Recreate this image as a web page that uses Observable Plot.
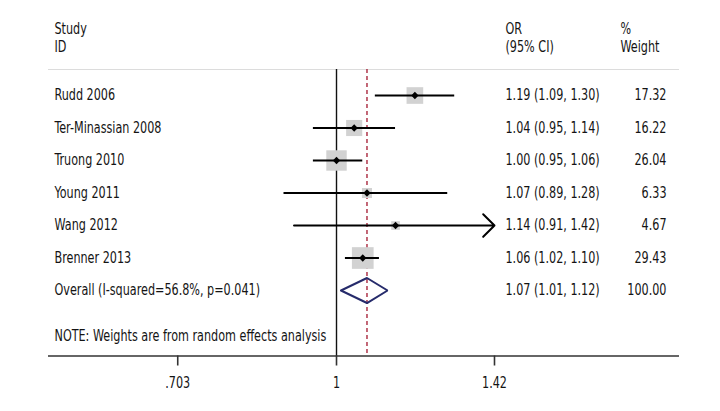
<!DOCTYPE html>
<html>
<head>
<meta charset="utf-8">
<script src="https://cdn.jsdelivr.net/npm/d3@7"></script>
<script src="https://cdn.jsdelivr.net/npm/@observablehq/plot@0.6"></script>
<style>
  html, body { margin: 0; padding: 0; background: #fff; }
  #chart svg { display: block; }
</style>
</head>
<body>
<div id="chart"></div>
<script>
// ---- data ----
const studies = ["Rudd 2006", "Ter-Minassian 2008", "Truong 2010", "Young 2011", "Wang 2012", "Brenner 2013"];
const orValues = [1.19, 1.04, 1.00, 1.07, 1.14, 1.06];
const ciLower = [1.09, 0.95, 0.95, 0.89, 0.91, 1.02];
const ciUpper = [1.30, 1.14, 1.06, 1.28, 1.42, 1.10];
const weights = [17.32, 16.22, 26.04, 6.33, 4.67, 29.43];
const overallLabel = "Overall (I-squared=56.8%, p=0.041)";
const overallOR = 1.07, overallLower = 1.01, overallUpper = 1.12, overallWeight = 100.00;
const noteText = "NOTE: Weights are from random effects analysis";
const xTicks = [0.703, 1, 1.42];
const xTickLabels = [".703", "1", "1.42"];
const axisMax = 1.42; // CIs reaching this are drawn with an arrow

// ---- derived tables ----
const rows = studies.map((s, i) => ({
  study: s, or: orValues[i], lo: ciLower[i], hi: ciUpper[i], w: weights[i], row: i + 1,
  clipped: ciUpper[i] >= axisMax
}));
const overallRow = rows.length + 1;
const noteRow = overallRow + 1.415;
const sepRow = 0.2;
const headRow1 = -1.03, headRow2 = -0.477;
const fmt2 = d3.format(".2f");
const orText = (o, l, h) => `${fmt2(o)} (${fmt2(l)}, ${fmt2(h)})`;
const diamondH = 0.385;
const diamond = [
  {x: overallLower, y: overallRow},
  {x: overallOR, y: overallRow - diamondH},
  {x: overallUpper, y: overallRow},
  {x: overallOR, y: overallRow + diamondH},
  {x: overallLower, y: overallRow}
];
const tickMap = new Map(xTicks.map((t, i) => [t, xTickLabels[i]]));

const FONT = "'DejaVu Sans Condensed', 'Liberation Sans Narrow', sans-serif";
const TXT = "#141414";
const colOR = 457, colW = 618, colWHead = 572, colStudy = 6;
const yBottom = 9.015;

const chart = Plot.plot({
  width: 720,
  height: 411,
  marginLeft: 48,
  marginRight: 41,
  marginTop: 0,
  marginBottom: 55.5,
  style: {fontFamily: FONT, fontSize: "15px", color: TXT, background: "#fff"},
  x: {type: "log", domain: [0.5277, 2.141]},
  y: {domain: [-1.923, yBottom], range: [0, 355.5], axis: null},
  r: {type: "sqrt", domain: [0, 29.43], range: [0, 12.25]},
  marks: [
    Plot.ruleY([sepRow], {stroke: "#dcdcdc", strokeWidth: 1.2}),
    Plot.ruleY([yBottom], {stroke: "#333", strokeWidth: 1.6}),
    Plot.axisX({ticks: xTicks, tickFormat: d => tickMap.get(d), tickSize: 10, tickPadding: 11,
      label: null, fontSize: 15, stroke: "#333", strokeWidth: 1.6, fill: TXT}),
    Plot.ruleX([1], {y1: sepRow, y2: yBottom, stroke: "#111", strokeWidth: 1.4}),
    Plot.ruleX([overallOR], {y1: sepRow, y2: yBottom, stroke: "#a3162e", strokeWidth: 1.3, strokeDasharray: "4,3"}),
    Plot.dot(rows, {x: "or", y: "row", r: "w", symbol: "square", fill: "#d2d2d2", stroke: null}),
    Plot.ruleY(rows.filter(d => !d.clipped), {x1: "lo", x2: "hi", y: "row", stroke: "#000", strokeWidth: 2}),
    Plot.arrow(rows.filter(d => d.clipped), {x1: "lo", x2: d => Math.min(d.hi, axisMax), y1: "row", y2: "row",
      stroke: "#000", strokeWidth: 2, headLength: 12, headAngle: 90}),
    Plot.dot(rows, {x: "or", y: "row", symbol: "diamond2", r: 3.3, fill: "#000", stroke: null}),
    Plot.line(diamond, {x: "x", y: "y", stroke: "#262b6b", strokeWidth: 2, fill: "none", strokeLinejoin: "miter"}),
    Plot.text(["Study"], {frameAnchor: "left", y: () => headRow1, dx: colStudy, textAnchor: "start", fill: TXT}),
    Plot.text(["ID"], {frameAnchor: "left", y: () => headRow2, dx: colStudy, textAnchor: "start", fill: TXT}),
    Plot.text(["OR"], {frameAnchor: "left", y: () => headRow1, dx: colOR, textAnchor: "start", fill: TXT}),
    Plot.text(["(95% CI)"], {frameAnchor: "left", y: () => headRow2, dx: colOR, textAnchor: "start", fill: TXT}),
    Plot.text(["%"], {frameAnchor: "left", y: () => headRow1, dx: colWHead, textAnchor: "start", fill: TXT}),
    Plot.text(["Weight"], {frameAnchor: "left", y: () => headRow2, dx: colWHead, textAnchor: "start", fill: TXT}),
    Plot.text(rows, {frameAnchor: "left", y: "row", text: "study", dx: colStudy, textAnchor: "start", fill: TXT}),
    Plot.text(rows, {frameAnchor: "left", y: "row", text: d => orText(d.or, d.lo, d.hi), dx: colOR, textAnchor: "start", fill: TXT}),
    Plot.text(rows, {frameAnchor: "left", y: "row", text: d => fmt2(d.w), dx: colW, textAnchor: "end", fill: TXT}),
    Plot.text([overallLabel], {frameAnchor: "left", y: () => overallRow, dx: colStudy, textAnchor: "start", fill: TXT}),
    Plot.text([orText(overallOR, overallLower, overallUpper)], {frameAnchor: "left", y: () => overallRow, dx: colOR, textAnchor: "start", fill: TXT}),
    Plot.text([fmt2(overallWeight)], {frameAnchor: "left", y: () => overallRow, dx: colW, textAnchor: "end", fill: TXT}),
    Plot.text([noteText], {frameAnchor: "left", y: () => noteRow, dx: colStudy, textAnchor: "start", fill: TXT})
  ]
});
document.getElementById("chart").appendChild(chart);

// Narrow the glyphs to approximate the condensed face of the original
chart.querySelectorAll("text").forEach(t => {
  const L = t.getComputedTextLength();
  if (L > 0) {
    t.setAttribute("textLength", (L * 0.83).toFixed(1));
    t.setAttribute("lengthAdjust", "spacingAndGlyphs");
  }
});
</script>
</body>
</html>
